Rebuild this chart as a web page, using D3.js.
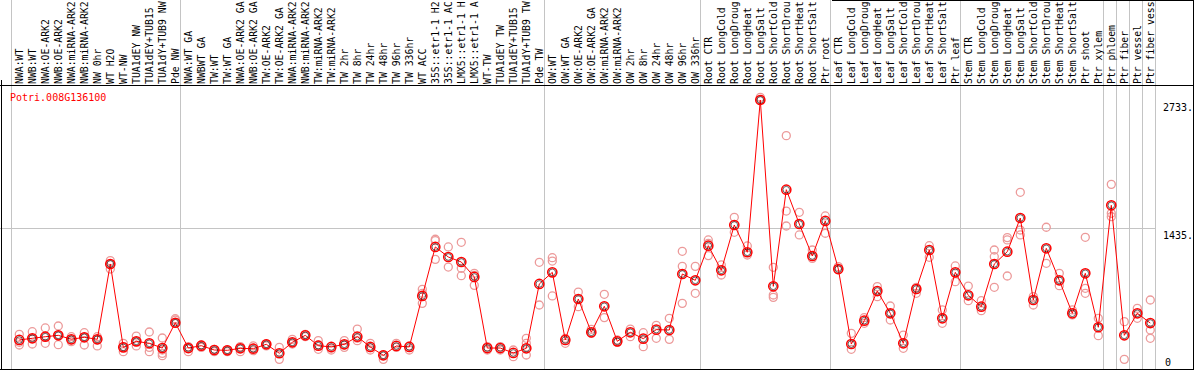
<!DOCTYPE html>
<html><head><meta charset="utf-8">
<script src="https://cdn.jsdelivr.net/npm/d3@7"></script>
<style>body{margin:0;background:#fff}svg{display:block}</style>
</head><body>
<script>
const title = "Potri.008G136100";
const categories = ["NWA:WT","NWB:WT","NWA:OE-ARK2","NWB:OE-ARK2","NWA:miRNA-ARK2","NWB:miRNA-ARK2","NW 0hr","WT H2O","WT-NW","TUA1dEY NW","TUA1dEY+TUB15","TUA1dY+TUB9 NW","Pde NW",
"NWA:WT GA","NWBWT GA","TW:WT","TW:WT GA","NWA:OE-ARK2 GA","NWB:OE-ARK2 GA","TW:OE-ARK2","TW:OE-ARK2 GA","NWA:miRNA-ARK2","NWB:miRNA-ARK2","TW:miRNA-ARK2","TW:miRNA-ARK2","TW 2hr","TW 8hr","TW 24hr","TW 48hr","TW 96hr","TW 336hr","WT ACC","35S::etr1-1 H2","35S::etr1-1 AC","LMX5::etr1-1 H","LMX5::etr1-1 A","WT-TW","TUA1dEY TW","TUA1dEY+TUB15","TUA1dY+TUB9 TW","Pde TW",
"OW:WT","OW:WT GA","OW:OE-ARK2","OW:OE-ARK2 GA","OW:miRNA-ARK2","OW:miRNA-ARK2","OW 2hr","OW 8hr","OW 24hr","OW 48hr","OW 96hr","OW 336hr",
"Root CTR","Root LongCold","Root LongDroug","Root LongHeat","Root LongSalt","Root ShortCold","Root ShortDrou","Root ShortHeat","Root ShortSalt","Ptr root",
"Leaf CTR","Leaf LongCold","Leaf LongDroug","Leaf LongHeat","Leaf LongSalt","Leaf ShortCold","Leaf ShortDrou","Leaf ShortHeat","Leaf ShortSalt","Ptr leaf",
"Stem CTR","Stem LongCold","Stem LongDroug","Stem LongHeat","Stem LongSalt","Stem ShortCold","Stem ShortDrou","Stem ShortHeat","Stem ShortSalt","Ptr shoot","Ptr xylem",
"Ptr phloem","Ptr fiber","Ptr vessel","Ptr fiber vess"];
const means = [295,312,328,342,302,322,302,1067,220,281,261,213,470,
213,237,193,190,210,206,251,160,271,342,237,224,251,328,224,139,234,224,742,1240,1138,1087,935,213,213,163,210,864,
982,295,711,373,637,281,373,308,400,396,965,901,
1253,1003,1463,1186,2733,840,1822,1473,1148,1504,
1016,254,491,792,566,261,813,1209,515,982,
749,633,1067,1192,1534,701,1226,901,566,972,424,
1663,342,566,467];
const replicates = [[352,271,244],[379,254,312],[417,261,328],[437,247,342],[328,278,295],[369,244,322],[328,234,295],[1101,1067,1016],[261,176,227],[335,234,278],[376,176,220],[315,159,135,193],[511,464,498],
[227,176,210],[244,220,227],[200,176],[193,176],[227,176,210],[234,186,210],[254,234],[220,98],[301,254,271],[352,328],[288,200,244],[210,193],[288,220,244],[406,288,312],[261,193,217],[142,98],[261,220],[234,193],[809,667,769],[1318,1304,1114],[1240,1036],[1287,1023,948],[972,952,850],[193,227],[193,227],[193,125],[312,261,142],[1084,650],
[1131,1097,742],[312,261],[782,633],[403,362],[759,522],[271,295],[406,328],[369,227],[444,312],[515,301],[1196,1043,667],[1043,769],
[1311,1277,1152],[1057,955],[1541,1389],[1250,1158],[2760,2733],[1033,752,728],[2371,1605,1453],[1592,1362],[1209,1124],[1555,1379],
[1040,1006],[362,200],[522,464],[837,735],[640,498],[345,210],[830,769],[1253,1135],[600,464],[1047,887],
[843,694],[694,593],[1209,1141,830],[1335,1311,945],[1795,1412,1362],[735,650],[1440,1074],[972,847],[600,549],[1338,820,769],[515,339],
[1876,1582,1548],[481,98],[616,515],[701,396,312]];
const groupStarts = [0,13,41,53,63,73,84,85,86,87,88];
const yTickValues = [0,1435,2733];
const yTickLabels = ["0","1435.","2733."];

const W = 1194, H = 370;
const svg = d3.select("body").append("svg").attr("width",W).attr("height",H);
svg.append("rect").attr("width",W).attr("height",H).attr("fill","#fff");

const x = d3.scaleLinear().domain([0, categories.length-1]).range([19.3, 1150.3]);
const y = d3.scaleLinear().domain([0, 2733]).range([369, 100]);
const font = "'DejaVu Sans Mono', monospace";

// group separators
svg.append("g").selectAll("line").data(groupStarts).join("line")
  .attr("x1", d => Math.round(x(d) - 8.5) + 0.5).attr("x2", d => Math.round(x(d) - 8.5) + 0.5)
  .attr("y1", 0).attr("y2", H).attr("stroke", "#c4c4c4").attr("stroke-width", 1);

// horizontal gridline(s)
svg.append("g").selectAll("line").data(yTickValues.filter(v => v > 0 && v < 2733)).join("line")
  .attr("x1", 0).attr("x2", 1156).attr("y1", d => Math.round(y(d)) + 0.5).attr("y2", d => Math.round(y(d)) + 0.5)
  .attr("stroke", "#c4c4c4").attr("stroke-width", 1);

// frame
svg.append("line").attr("x1",0).attr("x2",W).attr("y1",85.5).attr("y2",85.5).attr("stroke","#000");
svg.append("line").attr("x1",0).attr("x2",W).attr("y1",369.5).attr("y2",369.5).attr("stroke","#000");
svg.append("line").attr("x1",1.5).attr("x2",1.5).attr("y1",80).attr("y2",H).attr("stroke","#000");
svg.append("line").attr("x1",1193.5).attr("x2",1193.5).attr("y1",0).attr("y2",H).attr("stroke","#000");
svg.append("line").attr("x1",832).attr("x2",W).attr("y1",0.5).attr("y2",0.5).attr("stroke","#000");

// category labels (rotated)
svg.append("g").selectAll("text").data(categories).join("text")
  .attr("transform", (d,i) => `translate(${x(i)+3.5},84) rotate(-90)`)
  .attr("font-family", font).attr("font-size", 9.8).attr("fill", "#000")
  .text(d => d);

// right axis labels
svg.append("g").selectAll("text").data(yTickValues).join("text")
  .attr("x", (d,i) => i === 0 ? 1165 : 1163)
  .attr("y", d => d === 0 ? 366 : y(d) + 11)
  .attr("font-family", font).attr("font-size", 10).attr("fill", "#000")
  .text((d,i) => yTickLabels[i]);

// title
svg.append("text").attr("x", 10).attr("y", 101).attr("font-family", font).attr("font-size", 10)
  .attr("fill", "#ff0000").text(title);

// replicates
const reps = [];
replicates.forEach((arr, i) => arr.forEach(v => reps.push({i, v})));
svg.append("g").selectAll("circle").data(reps).join("circle")
  .attr("cx", d => x(d.i)).attr("cy", d => y(d.v)).attr("r", 4)
  .attr("fill", "none").attr("stroke", "#ec9a9a").attr("stroke-width", 1.3);

// mean line
svg.append("path").datum(means)
  .attr("d", d3.line().x((d,i) => x(i)).y(d => y(d)))
  .attr("fill", "none").attr("stroke", "#ff0000").attr("stroke-width", 1);

// mean markers
const mg = svg.append("g").selectAll("g").data(means).join("g")
  .attr("transform", (d,i) => `translate(${x(i)},${y(d)})`);
mg.append("circle").attr("r", 4.6).attr("fill", "none").attr("stroke", "#ff0000").attr("stroke-width", 1.5);
mg.append("circle").attr("r", 3.3).attr("fill", "none").attr("stroke", "#000").attr("stroke-width", 0.6);
</script>
</body></html>
